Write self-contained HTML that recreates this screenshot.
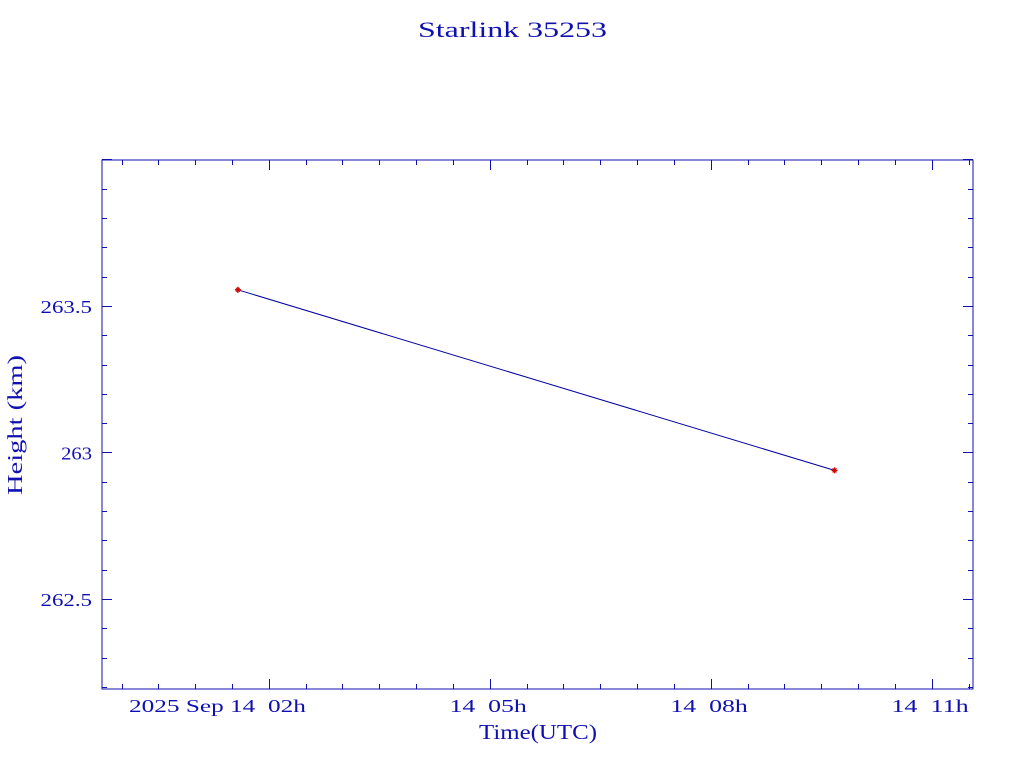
<!DOCTYPE html>
<html><head><meta charset="utf-8"><style>
body{margin:0;background:#fff;}
svg text{font-family:"Liberation Serif",serif;fill:#1010b0;}
</style></head><body>
<svg width="1024" height="768">
<text x="418" y="37" font-size="22" textLength="189" lengthAdjust="spacingAndGlyphs">Starlink 35253</text>
<rect x="102" y="160" width="871" height="529" fill="none" stroke="#1010b0" stroke-width="1"/>
<g id="axes"></g>
<g id="marks"></g>
<text x="479" y="739" font-size="21" textLength="118" lengthAdjust="spacingAndGlyphs">Time(UTC)</text>
<text transform="translate(22,495) rotate(-90)" font-size="21" textLength="140" lengthAdjust="spacingAndGlyphs">Height (km)</text>
</svg>
<script>
const times=[1.58,9.68]; // hours since 2025-09-14 00:00
const heights=[263.555,262.939];
const yTicks=[262.5,263,263.5];
const yTickLabels=["262.5","263","263.5"];
const xTicks=[2,5,8,11];
const xTickLabels=["2025 Sep 14  02h","14  05h","14  08h","14  11h"];
const L=102,R=973,T=160,B=689,x0=-0.265,x1=11.56,y0=262.193,y1=263.998;
const X=t=>L+(t-x0)/(x1-x0)*(R-L);
const Y=v=>B-(v-y0)/(y1-y0)*(B-T);
const NS="http://www.w3.org/2000/svg";
const ax=document.getElementById('axes'),mk=document.getElementById('marks');
function ln(p,a,b,c,d,col,w){const e=document.createElementNS(NS,'line');e.setAttribute('x1',a);e.setAttribute('y1',b);e.setAttribute('x2',c);e.setAttribute('y2',d);e.setAttribute('stroke',col);e.setAttribute('stroke-width',w||1);p.appendChild(e);return e;}
for(let v=262.2;v<=264.0001;v+=0.1){const y=Math.round(Y(v))+0.5;const maj=Math.abs(v*2-Math.round(v*2))<1e-6;const len=maj?10:5;
const a=ln(ax,L,y,L+len,y,'#1010b0');


const b=ln(ax,R-len,y,R,y,'#1010b0');

}
for(let t=-0.0;t<=x1;t+=0.5){if(t<x0)continue;const x=Math.round(X(t))+0.5;const maj=Math.abs(t%3-2)<1e-6;const len=maj?10:5;
const a=ln(ax,x,B,x,B-len,'#1010b0');


const b=ln(ax,x,T,x,T+len,'#1010b0');

}
yTicks.forEach((v,i)=>{const e=document.createElementNS(NS,'text');e.setAttribute('x',92);e.setAttribute('y',Y(v)+7);e.setAttribute('text-anchor','end');e.setAttribute('font-size','18');e.setAttribute('textLength',yTickLabels[i].length*10.3);e.setAttribute('lengthAdjust','spacingAndGlyphs');e.textContent=yTickLabels[i];


ax.appendChild(e);});
xTicks.forEach((t,i)=>{const e=document.createElementNS(NS,'text');const w=xTickLabels[i].length*11.05;e.setAttribute('x',X(t)+37-w);e.setAttribute('y',712);e.setAttribute('font-size','18');e.setAttribute('textLength',w);e.setAttribute('lengthAdjust','spacingAndGlyphs');e.setAttribute('xml:space','preserve');e.style.whiteSpace='pre';e.textContent=xTickLabels[i];


ax.appendChild(e);});
const pl=document.createElementNS(NS,'polyline');pl.setAttribute('points',times.map((t,i)=>X(t)+','+Y(heights[i])).join(' '));pl.setAttribute('fill','none');pl.setAttribute('stroke','#0000a0');pl.setAttribute('stroke-width','1');


mk.appendChild(pl);
times.forEach((t,i)=>{const g=document.createElementNS(NS,'g');const x=X(t),y=Y(heights[i]);
ln(g,x-3,y,x+3,y,'#d00000',1.5);ln(g,x,y-3,x,y+3,'#d00000',1.5);ln(g,x-2,y-2,x+2,y+2,'#d00000',1);ln(g,x-2,y+2,x+2,y-2,'#d00000',1);


mk.appendChild(g);});
</script>
</body></html>
